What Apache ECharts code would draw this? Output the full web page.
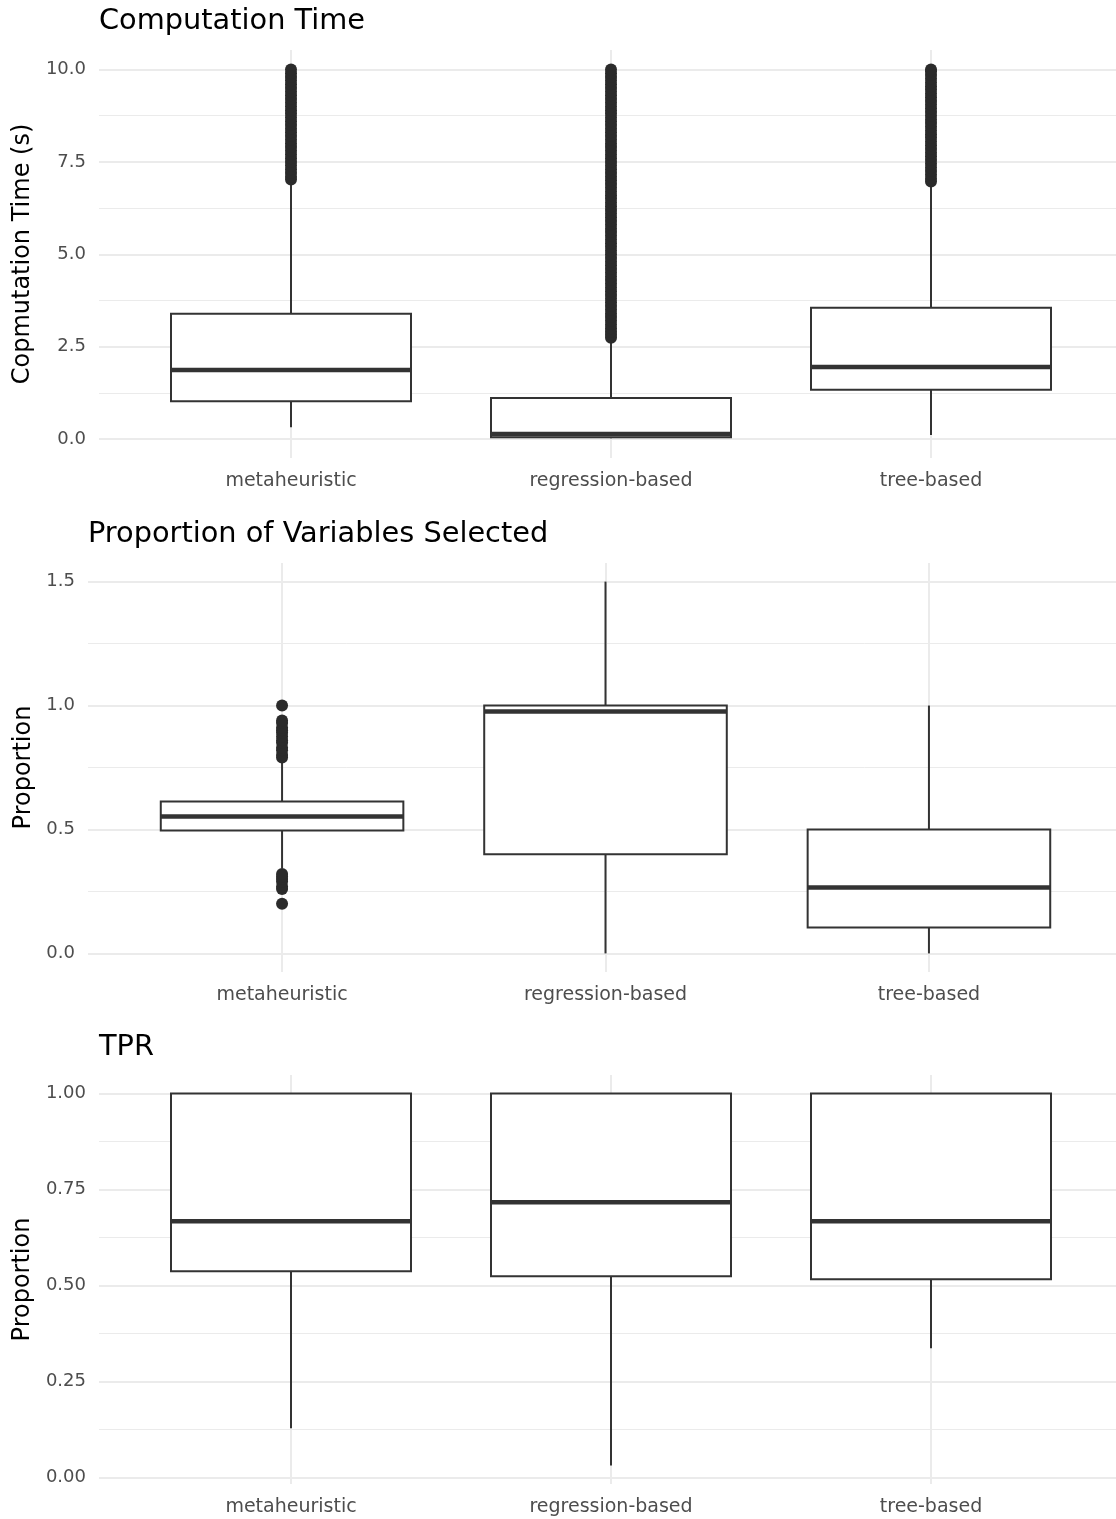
<!DOCTYPE html>
<html><head><meta charset="utf-8">
<script src="https://cdn.jsdelivr.net/npm/echarts@6/dist/echarts.min.js"></script>
<style>html,body{margin:0;padding:0;background:#fff;overflow:hidden}#c{width:1130px;height:1519px}</style>
</head><body><div id="c"></div>
<script>
const categories = ['metaheuristic', 'regression-based', 'tree-based'];

// Box statistics: [lower whisker, Q1, median, Q3, upper whisker]
const timeStats = [
  [0.32, 1.02, 1.87, 3.39, 6.95],
  [0.02, 0.05, 0.135, 1.11, 2.68],
  [0.11, 1.33, 1.95, 3.55, 6.9]
];
const timeOutMeta = [7.02,7.1,7.2,7.3,7.4,7.5,7.6,7.7,7.8,7.9,8.0,8.1,8.2,8.3,8.4,8.5,8.6,8.7,8.8,8.9,9.0,9.1,9.2,9.3,9.4,9.5,9.6,9.7,9.8,9.9,10.0];
const timeOutReg = [2.74,2.82,2.9,3.0,3.1,3.2,3.3,3.4,3.5,3.6,3.7,3.8,3.9,4.0,4.1,4.2,4.3,4.4,4.5,4.6,4.7,4.8,4.9,5.0,5.1,5.2,5.3,5.4,5.5,5.6,5.7,5.8,5.9,6.0,6.1,6.2,6.3,6.4,6.5,6.6,6.7,6.8,6.9,7.0,7.1,7.2,7.3,7.4,7.5,7.6,7.7,7.8,7.9,8.0,8.1,8.2,8.3,8.4,8.5,8.6,8.7,8.8,8.9,9.0,9.1,9.2,9.3,9.4,9.5,9.6,9.7,9.8,9.9,10.0];
const timeOutTree = [6.97,7.05,7.15,7.25,7.35,7.45,7.55,7.65,7.75,7.85,7.95,8.05,8.15,8.25,8.35,8.45,8.55,8.65,8.75,8.85,8.95,9.05,9.15,9.25,9.35,9.45,9.55,9.65,9.75,9.85,9.95,10.0];

const propStats = [
  [0.343, 0.496, 0.552, 0.613, 0.77],
  [0.0, 0.40, 0.976, 1.0, 1.5],
  [0.0, 0.105, 0.266, 0.5, 1.0]
];
const propOutMeta = [0.2,0.26,0.27,0.29,0.3,0.31,0.32,0.79,0.8,0.82,0.83,0.85,0.86,0.875,0.89,0.9,0.91,0.93,0.94,1.0];
const propOutReg = [];
const propOutTree = [];

const tprStats = [
  [0.128, 0.537, 0.667, 1.0, 1.0],
  [0.031, 0.524, 0.717, 1.0, 1.0],
  [0.336, 0.516, 0.667, 1.0, 1.0]
];

const timeTicks = [0, 2.5, 5, 7.5, 10];
const timeMinor = [1.25, 3.75, 6.25, 8.75];
const propTicks = [0, 0.5, 1.0, 1.5];
const propMinor = [0.25, 0.75, 1.25];
const tprTicks = [0, 0.25, 0.5, 0.75, 1.0];
const tprMinor = [0.125, 0.375, 0.625, 0.875];

const FONT = 'DejaVu Sans';
const INK = '#333333';
const DOT = '#2b2b2b';
const GRIDC = '#ebebeb';

function boxItem(params, api) {
  const x = api.value(0);
  const lo = api.value(1), q1 = api.value(2), med = api.value(3), q3 = api.value(4), hi = api.value(5);
  const hw = 0.375;
  const tl = api.coord([x - hw, q3]);
  const br = api.coord([x + hw, q1]);
  const mL = api.coord([x - hw, med]);
  const mR = api.coord([x + hw, med]);
  const pHi = api.coord([x, hi]);
  const pQ3 = api.coord([x, q3]);
  const pQ1 = api.coord([x, q1]);
  const pLo = api.coord([x, lo]);
  return {
    type: 'group',
    children: [
      { type: 'line', shape: { x1: pHi[0], y1: pHi[1], x2: pQ3[0], y2: pQ3[1] }, style: { stroke: INK, lineWidth: 2 } },
      { type: 'line', shape: { x1: pQ1[0], y1: pQ1[1], x2: pLo[0], y2: pLo[1] }, style: { stroke: INK, lineWidth: 2 } },
      { type: 'rect', shape: { x: tl[0], y: tl[1], width: br[0] - tl[0], height: br[1] - tl[1] }, style: { fill: '#ffffff', stroke: INK, lineWidth: 2 } },
      { type: 'line', shape: { x1: mL[0], y1: mL[1], x2: mR[0], y2: mR[1] }, style: { stroke: INK, lineWidth: 4.5 } }
    ]
  };
}

function boxData(stats) { return stats.map((s, i) => [i].concat(s)); }
function outData(lists) {
  const out = [];
  lists.forEach((l, i) => l.forEach(v => out.push([i, v])));
  return out;
}

function makeX(gi) {
  return {
    gridIndex: gi, type: 'value', min: -0.6, max: 2.6,
    axisLine: { show: false },
    axisTick: { show: false, customValues: [0, 1, 2] },
    axisLabel: { customValues: [0, 1, 2], formatter: v => categories[Math.round(v)], color: '#4d4d4d', fontSize: 19, fontFamily: FONT, margin: 14 },
    splitLine: { show: true, lineStyle: { color: GRIDC, width: 2 } }
  };
}
function makeY(gi, min, max, ticks, digits, name, gap) {
  return {
    gridIndex: gi, type: 'value', min: min, max: max,
    name: name, nameLocation: 'middle', nameGap: gap,
    nameTextStyle: { fontSize: 24, color: '#000', fontFamily: FONT, lineHeight: 24 },
    axisLine: { show: false },
    axisTick: { show: false, customValues: ticks },
    axisLabel: { customValues: ticks, formatter: v => v.toFixed(digits), color: '#4d4d4d', fontSize: 18, fontFamily: FONT, margin: 13, padding: [4, 0, 0, 0] },
    splitLine: { show: true, lineStyle: { color: GRIDC, width: 2 } }
  };
}
function makeMinor(gi, min, max, ticks) {
  return {
    gridIndex: gi, type: 'value', min: min, max: max, position: 'left',
    axisLine: { show: false },
    axisTick: { show: false, customValues: ticks },
    axisLabel: { show: false, customValues: ticks },
    splitLine: { show: true, lineStyle: { color: GRIDC, width: 1 } }
  };
}

const titleStyle = { fontSize: 28.8, fontWeight: 'normal', color: '#000', fontFamily: FONT };

const option = {
  animation: false,
  backgroundColor: '#ffffff',
  textStyle: { fontFamily: FONT },
  title: [
    { text: 'Computation Time', left: 99, top: 7, padding: 0, textStyle: titleStyle },
    { text: 'Proportion of Variables Selected', left: 88, top: 520, padding: 0, textStyle: titleStyle },
    { text: 'TPR', left: 99, top: 1033, padding: 0, textStyle: titleStyle }
  ],
  grid: [
    { left: 99, top: 50, width: 1024, height: 408 },
    { left: 88, top: 563, width: 1035, height: 409 },
    { left: 99, top: 1075, width: 1024, height: 409 }
  ],
  xAxis: [makeX(0), makeX(1), makeX(2)],
  yAxis: [
    makeY(0, -0.514, 10.528, timeTicks, 1, 'Copmutation Time (s)', 62),
    makeY(1, -0.075, 1.575, propTicks, 1, 'Proportion', 51),
    makeY(2, -0.0175, 1.0485, tprTicks, 2, 'Proportion', 62),
    makeMinor(0, -0.514, 10.528, timeMinor),
    makeMinor(1, -0.075, 1.575, propMinor),
    makeMinor(2, -0.0175, 1.0485, tprMinor)
  ],
  series: [
    { type: 'custom', xAxisIndex: 0, yAxisIndex: 0, renderItem: boxItem, encode: { x: 0, y: [1, 2, 3, 4, 5] }, data: boxData(timeStats), z: 2 },
    { type: 'scatter', xAxisIndex: 0, yAxisIndex: 0, symbol: 'circle', symbolSize: 12, itemStyle: { color: DOT, opacity: 1 }, data: outData([timeOutMeta, timeOutReg, timeOutTree]), z: 3 },
    { type: 'custom', xAxisIndex: 1, yAxisIndex: 1, renderItem: boxItem, encode: { x: 0, y: [1, 2, 3, 4, 5] }, data: boxData(propStats), z: 2 },
    { type: 'scatter', xAxisIndex: 1, yAxisIndex: 1, symbol: 'circle', symbolSize: 12, itemStyle: { color: DOT, opacity: 1 }, data: outData([propOutMeta, propOutReg, propOutTree]), z: 3 },
    { type: 'custom', xAxisIndex: 2, yAxisIndex: 2, renderItem: boxItem, encode: { x: 0, y: [1, 2, 3, 4, 5] }, data: boxData(tprStats), z: 2 }
  ]
};

const chart = echarts.init(document.getElementById('c'), null, { renderer: 'canvas' });
chart.setOption(option);
</script>
</body></html>
